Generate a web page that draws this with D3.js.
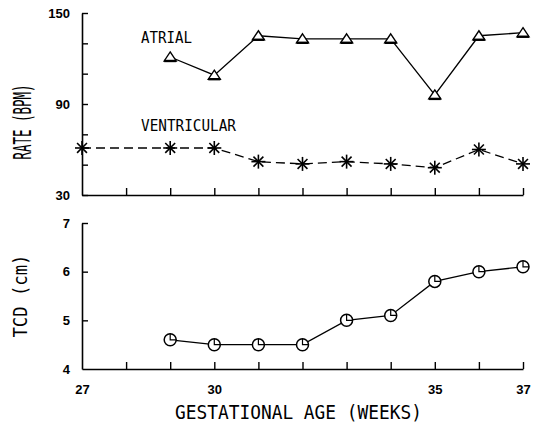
<!DOCTYPE html>
<html>
<head>
<meta charset="utf-8">
<script src="https://cdn.jsdelivr.net/npm/d3@7"></script>
<style>
  html, body { margin: 0; padding: 0; background: #fff; }
  svg { display: block; }
</style>
</head>
<body>
<svg id="chart" width="537" height="427"></svg>
<script>
// ---- data ----
const weeks = [27, 28, 29, 30, 31, 32, 33, 34, 35, 36, 37];
const atrialWeeks = [29, 30, 31, 32, 33, 34, 35, 36, 37];
const atrialRate = [121, 109, 135, 133, 133, 133, 96, 135, 137];
const ventricularWeeks = [27, 29, 30, 31, 32, 33, 34, 35, 36, 37];
const ventricularRate = [61, 61, 61, 52, 50.5, 52, 50.5, 48, 60, 50.5];
const tcdWeeks = [29, 30, 31, 32, 33, 34, 35, 36, 37];
const tcdValues = [4.6, 4.5, 4.5, 4.5, 5.0, 5.1, 5.8, 6.0, 6.1];
const rateTicks = [30, 50, 70, 90, 110, 130, 150];
const rateTickLabels = [30, 90, 150];
const tcdTicks = [4, 5, 6, 7];
const xTickLabels = [27, 30, 35, 37];

const svg = d3.select("#chart");
const x = d3.scaleLinear().domain([27, 37]).range([82, 523]);
const yTop = d3.scaleLinear().domain([30, 150]).range([195, 13]);
const yBot = d3.scaleLinear().domain([4, 7]).range([369, 223]);

const numFont = "'Liberation Sans', Arial, sans-serif";
const monoFont = "'DejaVu Sans Mono', monospace";

function styleAxis(g) {
  g.selectAll("path.domain").attr("stroke", "#000").attr("stroke-width", 1.6);
  g.selectAll(".tick line").attr("stroke", "#000").attr("stroke-width", 1.4);
  g.selectAll(".tick text").attr("fill", "#000")
    .attr("font-family", numFont).attr("font-size", 13).attr("font-weight", "bold");
}

// ---- upper panel axes ----
const gTopY = svg.append("g").attr("transform", `translate(${x.range()[0]},0)`)
  .call(d3.axisLeft(yTop).tickValues(rateTicks).tickSizeInner(-6).tickSizeOuter(0).tickPadding(12)
    .tickFormat(d => rateTickLabels.includes(d) ? d : ""));
styleAxis(gTopY);

const gTopX = svg.append("g").attr("transform", `translate(0,${yTop.range()[0]})`)
  .call(d3.axisBottom(x).tickValues(weeks.slice(1)).tickSizeInner(-7).tickSizeOuter(0).tickFormat(""));
styleAxis(gTopX);

// ---- lower panel axes ----
const gBotY = svg.append("g").attr("transform", `translate(${x.range()[0]},0)`)
  .call(d3.axisLeft(yBot).tickValues(tcdTicks).tickSizeInner(-6).tickSizeOuter(0).tickPadding(12)
    .tickFormat(d3.format("d")));
styleAxis(gBotY);
gBotY.selectAll(".tick").filter(d => d === 4).select("line").remove();

const gBotX = svg.append("g").attr("transform", `translate(0,${yBot.range()[0]})`)
  .call(d3.axisBottom(x).tickValues(weeks).tickSizeInner(-7).tickSizeOuter(0).tickPadding(16)
    .tickFormat(d => xTickLabels.includes(d) ? d : ""));
styleAxis(gBotX);
gBotX.selectAll(".tick").filter(d => d === 27).select("line").remove();

// ---- atrial series ----
const atrial = atrialWeeks.map((w, i) => ({ w, v: atrialRate[i] }));
const lineTop = d3.line().x(d => x(d.w)).y(d => yTop(d.v));
svg.append("path").datum(atrial).attr("d", lineTop)
  .attr("fill", "none").attr("stroke", "#000").attr("stroke-width", 1.3);
const tri = svg.append("g").selectAll("g").data(atrial).join("g")
  .attr("transform", d => `translate(${x(d.w)},${yTop(d.v)})`);
tri.append("path").attr("d", "M0,-5 L6,4 L-6,4 Z")
  .attr("fill", "#fff").attr("stroke", "#000").attr("stroke-width", 1.4);
tri.append("line").attr("x1", -6).attr("x2", 6).attr("y1", 4).attr("y2", 4)
  .attr("stroke", "#000").attr("stroke-width", 2.4);

// ---- ventricular series ----
const vent = ventricularWeeks.map((w, i) => ({ w, v: ventricularRate[i] }));
svg.append("path").datum(vent).attr("d", lineTop)
  .attr("fill", "none").attr("stroke", "#000").attr("stroke-width", 1.3)
  .attr("stroke-dasharray", "9,5");
const star = svg.append("g").selectAll("g").data(vent).join("g")
  .attr("transform", d => `translate(${x(d.w)},${yTop(d.v)})`);
[0, 45, 90, 135].forEach(a => {
  const r = 7, rad = a * Math.PI / 180;
  star.append("line")
    .attr("x1", -r * Math.cos(rad)).attr("y1", -r * Math.sin(rad))
    .attr("x2", r * Math.cos(rad)).attr("y2", r * Math.sin(rad))
    .attr("stroke", "#000").attr("stroke-width", 1.6);
});

// ---- TCD series ----
const tcd = tcdWeeks.map((w, i) => ({ w, v: tcdValues[i] }));
const lineBot = d3.line().x(d => x(d.w)).y(d => yBot(d.v));
svg.append("path").datum(tcd).attr("d", lineBot)
  .attr("fill", "none").attr("stroke", "#000").attr("stroke-width", 1.3);
const circ = svg.append("g").selectAll("g").data(tcd).join("g")
  .attr("transform", d => `translate(${x(d.w)},${yBot(d.v)})`);
circ.append("circle").attr("r", 6).attr("fill", "#fff").attr("stroke", "#000").attr("stroke-width", 1.5);
circ.append("path").attr("d", "M0,-6 L0,0 L6,0").attr("fill", "none")
  .attr("stroke", "#000").attr("stroke-width", 1.2);

// ---- text labels ----
function label(txt, cx, cy, size, len, rot) {
  return svg.append("text")
    .attr("transform", `translate(${cx},${cy})` + (rot ? ` rotate(${rot})` : ""))
    .attr("text-anchor", "middle")
    .attr("font-family", monoFont).attr("font-size", size)
    .attr("fill", "#000")
    .attr("textLength", len).attr("lengthAdjust", "spacingAndGlyphs")
    .text(txt);
}
label("ATRIAL", 166.5, 43, 15, 51);
label("VENTRICULAR", 188.5, 131, 16, 95);
label("GESTATIONAL AGE (WEEKS)", 298.5, 419, 19, 247);
label("RATE (BPM)", 31, 122, 24, 75, -90);
label("TCD (cm)", 27, 296, 19, 83, -90);
</script>
</body>
</html>
